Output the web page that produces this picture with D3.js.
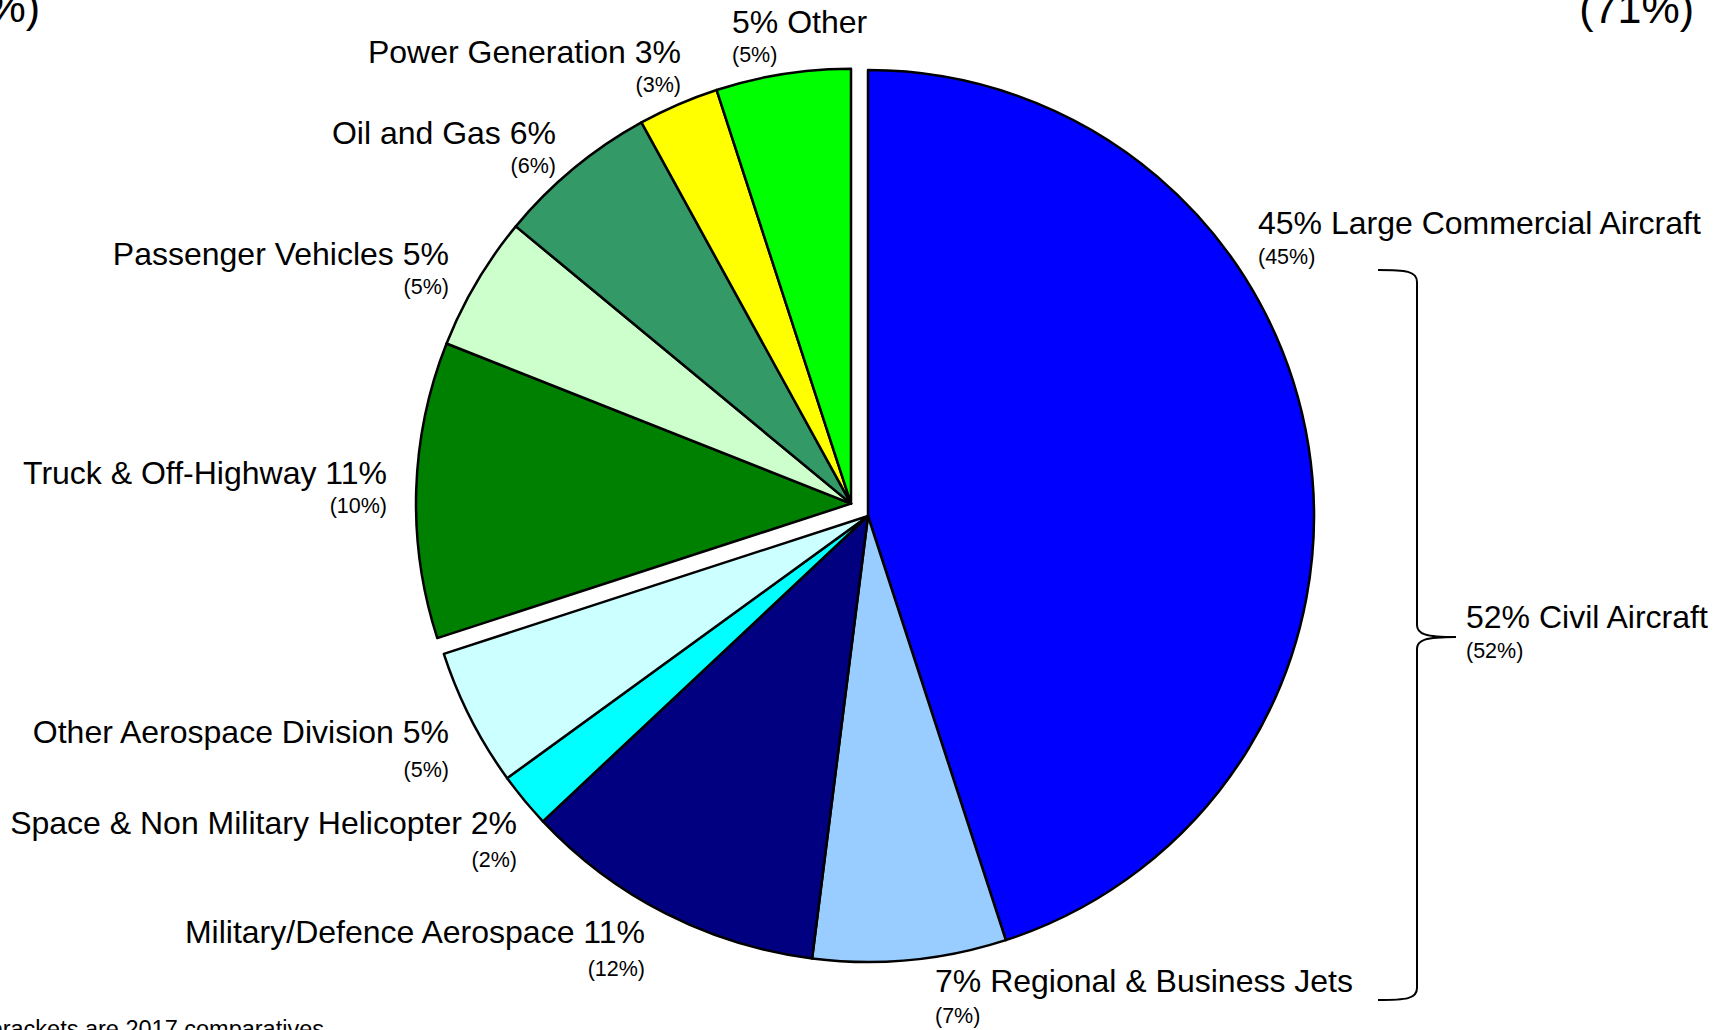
<!DOCTYPE html>
<html>
<head>
<meta charset="utf-8">
<script src="https://cdn.jsdelivr.net/npm/d3@7"></script>
<style>
  html, body { margin: 0; padding: 0; background: #ffffff; }
  svg { display: block; font-family: "Liberation Sans", Arial, Helvetica, sans-serif; }
</style>
</head>
<body>
<svg id="chart" width="1727" height="1030"></svg>
<script>
// Revenue split by market, current year, with prior-year comparatives in brackets
const categories = [
  "Large Commercial Aircraft",
  "Regional & Business Jets",
  "Military/Defence Aerospace",
  "Space & Non Military Helicopter",
  "Other Aerospace Division",
  "Truck & Off-Highway",
  "Passenger Vehicles",
  "Oil and Gas",
  "Power Generation",
  "Other"
];
const share2018 = [45, 7, 11, 2, 5, 11, 5, 6, 3, 5];
const share2017 = [45, 7, 12, 2, 5, 10, 5, 6, 3, 5];
const segments  = ["Aerospace", "Aerospace", "Aerospace", "Aerospace", "Aerospace",
                   "Industrial", "Industrial", "Industrial", "Industrial", "Industrial"];
const civilAircraft = ["Large Commercial Aircraft", "Regional & Business Jets"];
const footnote = "Figures in brackets are 2017 comparatives";

// Styling
const sliceColors = ["#0000ff", "#99ccff", "#000080", "#00ffff", "#ccffff",
                     "#008000", "#ccffcc", "#339966", "#ffff00", "#00ff00"];

// Label placement: anchor point of the main label (baseline), offset of the bracketed line
const labelLayout = {
  "Large Commercial Aircraft":       { x: 1258, y: 234, dy: 30, anchor: "start", valueFirst: true },
  "Regional & Business Jets":        { x: 935,  y: 992, dy: 31, anchor: "start", valueFirst: true },
  "Military/Defence Aerospace":      { x: 645,  y: 943, dy: 33, anchor: "end",   valueFirst: false },
  "Space & Non Military Helicopter": { x: 517,  y: 834, dy: 33, anchor: "end",   valueFirst: false },
  "Other Aerospace Division":        { x: 449,  y: 743, dy: 34, anchor: "end",   valueFirst: false },
  "Truck & Off-Highway":             { x: 387,  y: 484, dy: 29, anchor: "end",   valueFirst: false },
  "Passenger Vehicles":              { x: 449,  y: 265, dy: 29, anchor: "end",   valueFirst: false },
  "Oil and Gas":                     { x: 556,  y: 144, dy: 29, anchor: "end",   valueFirst: false },
  "Power Generation":                { x: 681,  y: 63,  dy: 29, anchor: "end",   valueFirst: false },
  "Other":                           { x: 732,  y: 33,  dy: 29, anchor: "start", valueFirst: true }
};

const W = 1727, H = 1030;
const center = { x: 868, y: 516 };
const radius = { Aerospace: 446, Industrial: 435 };
const explode = { Aerospace: 0, Industrial: 21 };
const mainFont = 32, subFont = 21.5;

const svg = d3.select("#chart");
svg.append("rect").attr("width", W).attr("height", H).attr("fill", "#ffffff");

const rows = categories.map((c, i) => ({
  name: c, value: share2018[i], prior: share2017[i], segment: segments[i], color: sliceColors[i]
}));

const pie = d3.pie().sort(null).value(d => d.value).startAngle(0).endAngle(2 * Math.PI);
const arcs = pie(rows);

// Offset of each segment along the bisector of its combined angle range
const segOffset = {};
for (const seg of ["Aerospace", "Industrial"]) {
  const members = arcs.filter(a => a.data.segment === seg);
  const mid = (members[0].startAngle + members[members.length - 1].endAngle) / 2;
  segOffset[seg] = { dx: explode[seg] * Math.sin(mid), dy: -explode[seg] * Math.cos(mid) };
}

const arcGen = d => d3.arc().innerRadius(0).outerRadius(radius[d.data.segment])(d);

svg.append("g")
  .attr("transform", `translate(${center.x},${center.y})`)
  .selectAll("path")
  .data(arcs)
  .join("path")
  .attr("transform", d => `translate(${segOffset[d.data.segment].dx},${segOffset[d.data.segment].dy})`)
  .attr("d", arcGen)
  .attr("fill", d => d.data.color)
  .attr("stroke", "#000000")
  .attr("stroke-width", 2.5)
  .attr("stroke-linejoin", "round");

// Slice labels
const labels = svg.append("g").attr("fill", "#000000");
rows.forEach(r => {
  const L = labelLayout[r.name];
  labels.append("text")
    .attr("x", L.x).attr("y", L.y)
    .attr("text-anchor", L.anchor)
    .attr("font-size", mainFont)
    .text(L.valueFirst ? `${r.value}% ${r.name}` : `${r.name} ${r.value}%`);
  labels.append("text")
    .attr("x", L.x).attr("y", L.y + L.dy)
    .attr("text-anchor", L.anchor)
    .attr("font-size", subFont)
    .text(`(${r.prior}%)`);
});

// Civil aircraft brace spanning the two civil slices' labels
const civilNow = d3.sum(rows.filter(r => civilAircraft.includes(r.name)), r => r.value);
const civilPrior = d3.sum(rows.filter(r => civilAircraft.includes(r.name)), r => r.prior);
const br = { x0: 1378, xv: 1417, xt: 1456, y0: 270, ym: 637, y1: 1000 };
const brace = d3.path();
brace.moveTo(br.x0, br.y0);
brace.bezierCurveTo(br.x0 + 28, br.y0, br.xv, br.y0 + 1, br.xv, br.y0 + 12);
brace.lineTo(br.xv, br.ym - 12);
brace.bezierCurveTo(br.xv, br.ym - 3, br.xv + 8, br.ym, br.xt, br.ym);
brace.bezierCurveTo(br.xv + 8, br.ym, br.xv, br.ym + 3, br.xv, br.ym + 12);
brace.lineTo(br.xv, br.y1 - 12);
brace.bezierCurveTo(br.xv, br.y1 - 1, br.x0 + 28, br.y1, br.x0, br.y1);
svg.append("path")
  .attr("d", brace.toString())
  .attr("fill", "none")
  .attr("stroke", "#000000")
  .attr("stroke-width", 2);

labels.append("text")
  .attr("x", 1466).attr("y", 628)
  .attr("font-size", mainFont)
  .text(`${civilNow}% Civil Aircraft`);
labels.append("text")
  .attr("x", 1466).attr("y", 658)
  .attr("font-size", subFont)
  .text(`(${civilPrior}%)`);

// Prior-year segment totals at the top corners
const segPrior = seg => d3.sum(rows.filter(r => r.segment === seg), r => r.prior);
labels.append("text")
  .attr("x", 40).attr("y", 22)
  .attr("text-anchor", "end")
  .attr("font-size", 43)
  .text(`(${segPrior("Industrial")}%)`);
labels.append("text")
  .attr("x", 1694).attr("y", 23)
  .attr("text-anchor", "end")
  .attr("font-size", 43)
  .text(`(${segPrior("Aerospace")}%)`);

// Footnote
labels.append("text")
  .attr("x", 324).attr("y", 1037)
  .attr("text-anchor", "end")
  .attr("font-size", 23.5)
  .text(footnote);
</script>
</body>
</html>
